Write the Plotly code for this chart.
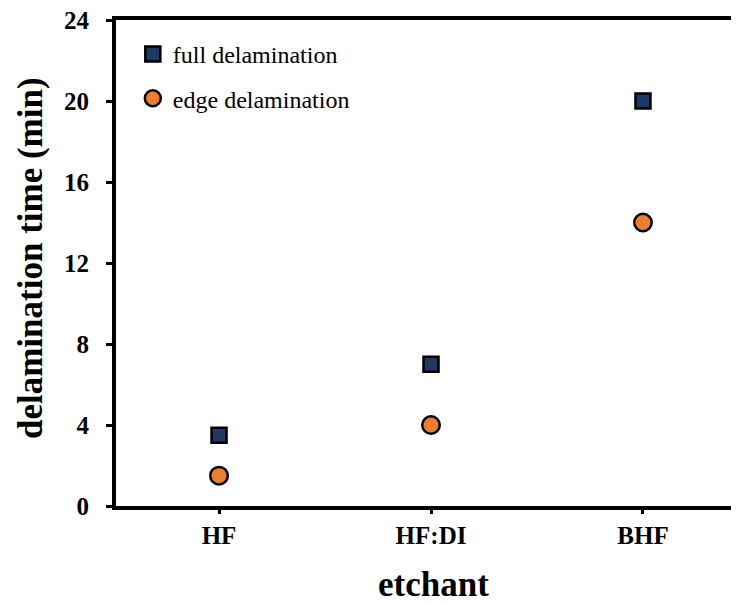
import plotly.graph_objects as go

categories = ["HF", "HF:DI", "BHF"]
full_delam = [3.5, 7, 20]
edge_delam = [1.5, 4, 14]
y_ticks = [0, 4, 8, 12, 16, 20, 24]

FONT = "Liberation Serif, Times New Roman, serif"

fig = go.Figure()
fig.add_trace(go.Scatter(
    x=categories, y=full_delam, mode="markers", name="full delamination",
    legendgroup="a",
    marker=dict(symbol="square", size=15, color="#203864", line=dict(color="black", width=2.5)),
))
fig.add_trace(go.Scatter(
    x=categories, y=edge_delam, mode="markers", name="edge delamination",
    legendgroup="b",
    marker=dict(symbol="circle", size=17.5, color="#ED7D31", line=dict(color="black", width=2.5)),
))

fig.update_layout(
    width=731, height=595,
    margin=dict(l=108, r=0, t=12, b=97),
    plot_bgcolor="white", paper_bgcolor="white",
    font=dict(family=FONT, color="black"),
    showlegend=True,
    legend=dict(x=0.027, y=0.9755, xanchor="left", yanchor="top",
                font=dict(size=24, family=FONT), tracegroupgap=10,
                bgcolor="rgba(0,0,0,0)"),
    xaxis=dict(
        type="category", categoryorder="array", categoryarray=categories,
        range=[-0.486, 2.453],
        showline=True, linewidth=4, linecolor="black", mirror=True,
        ticks="outside", ticklen=4, tickwidth=3, tickcolor="black",
        tickfont=dict(size=25, family=FONT, weight="bold"),
        showgrid=False, zeroline=False,
    ),
    yaxis=dict(
        range=[0, 24], tickvals=y_ticks,
        showline=True, linewidth=4, linecolor="black",
        ticks="outside", ticklen=6, tickwidth=3, tickcolor="black",
        tickfont=dict(size=25, family=FONT, weight="bold"),
        ticklabelstandoff=12, ticklabeloverflow="allow",
        showgrid=False, zeroline=False,
    ),
    annotations=[
        dict(text="<b>etchant</b>", xref="paper", yref="paper", x=0.5096,
             y=-0.1605, xanchor="center", yanchor="middle", showarrow=False,
             font=dict(size=35, family=FONT)),
        dict(text="<b>delamination time (min)</b>", xref="paper", yref="paper",
             x=-0.1364, y=0.5103, xanchor="center", yanchor="middle",
             textangle=-90, showarrow=False, font=dict(size=35, family=FONT)),
    ],
)

fig.write_html("out.html")
